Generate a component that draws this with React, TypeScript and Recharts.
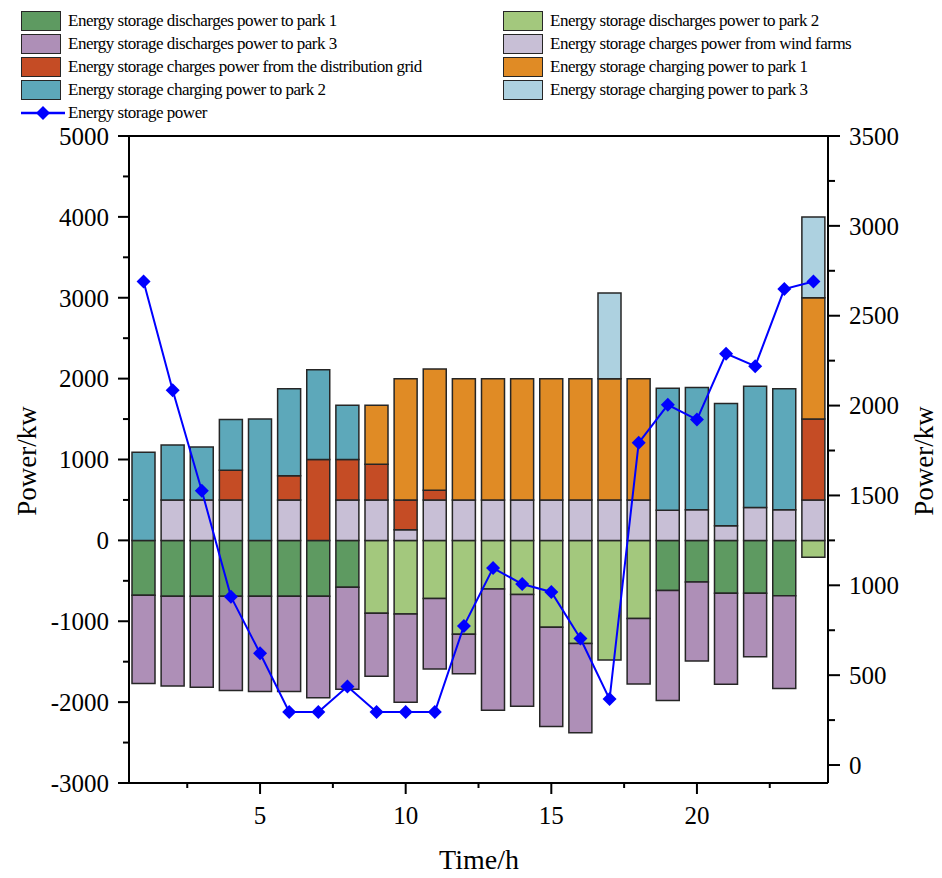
import { ComposedChart, Bar, Line, XAxis, YAxis, ReferenceLine } from 'recharts';

const hours = [1, 2, 3, 4, 5, 6, 7, 8, 9, 10, 11, 12, 13, 14, 15, 16, 17, 18, 19, 20, 21, 22, 23, 24];

// discharge (drawn below zero)
const dischargePark1 = [680, 690, 690, 690, 690, 690, 690, 580, 0, 0, 0, 0, 0, 0, 0, 0, 0, 0, 620, 515, 655, 655, 685, 0];
const dischargePark2 = [0, 0, 0, 0, 0, 0, 0, 0, 900, 910, 720, 1160, 600, 670, 1075, 1275, 1480, 965, 0, 0, 0, 0, 0, 210];
const dischargePark3 = [1090, 1110, 1125, 1165, 1180, 1180, 1255, 1260, 780, 1090, 870, 490, 1500, 1380, 1225, 1105, 0, 810, 1360, 975, 1125, 785, 1145, 0];

// charging (drawn above zero)
const chargeWind = [0, 500, 500, 500, 0, 500, 0, 500, 500, 130, 500, 500, 500, 500, 500, 500, 500, 500, 372, 380, 182, 405, 380, 500];
const chargeGrid = [0, 0, 0, 367, 0, 300, 1000, 500, 440, 370, 120, 0, 0, 0, 0, 0, 0, 0, 0, 0, 0, 0, 0, 1000];
const chargePark1 = [0, 0, 0, 0, 0, 0, 0, 0, 730, 1500, 1500, 1500, 1500, 1500, 1500, 1500, 1500, 1500, 0, 0, 0, 0, 0, 1500];
const chargePark2 = [1090, 680, 655, 628, 1500, 1074, 1110, 670, 0, 0, 0, 0, 0, 0, 0, 0, 0, 0, 1510, 1510, 1510, 1500, 1494, 0];
const chargePark3 = [0, 0, 0, 0, 0, 0, 0, 0, 0, 0, 0, 0, 0, 0, 0, 0, 1060, 0, 0, 0, 0, 0, 0, 1000];

// energy storage power (right axis)
const storagePower = [2690, 2085, 1526, 937, 622, 295, 295, 437, 295, 295, 295, 774, 1096, 1007, 963, 704, 367, 1793, 2004, 1922, 2289, 2219, 2648, 2690];

const leftTicks = [-3000, -2500, -2000, -1500, -1000, -500, 0, 500, 1000, 1500, 2000, 2500, 3000, 3500, 4000, 4500, 5000];
const rightTicks = [0, 250, 500, 750, 1000, 1250, 1500, 1750, 2000, 2250, 2500, 2750, 3000, 3250, 3500];
const xTicks = [2.5, 5, 7.5, 10, 12.5, 15, 17.5, 20, 22.5];

const data = hours.map((h, i) => ({
  hour: h,
  dis1: -dischargePark1[i],
  dis2: -dischargePark2[i],
  dis3: -dischargePark3[i],
  wind: chargeWind[i],
  grid: chargeGrid[i],
  chg1: chargePark1[i],
  chg2: chargePark2[i],
  chg3: chargePark3[i],
  power: storagePower[i],
}));

const FONT = '"Liberation Serif", "Times New Roman", serif';
const EDGE = '#262626';

const colors = {
  dis1: '#5E9A61',
  dis2: '#A3C87D',
  dis3: '#AE8FB7',
  wind: '#C8BFD6',
  grid: '#C54C25',
  chg1: '#E08B25',
  chg2: '#5DA8BA',
  chg3: '#ADD1E0',
};

const legendRows = [
  [['dis1', 'Energy storage discharges power to park 1'], ['dis2', 'Energy storage discharges power to park 2']],
  [['dis3', 'Energy storage discharges power to park 3'], ['wind', 'Energy storage charges power from wind farms']],
  [['grid', 'Energy storage charges power from the distribution grid'], ['chg1', 'Energy storage charging power to park 1']],
  [['chg2', 'Energy storage charging power to park 2'], ['chg3', 'Energy storage charging power to park 3']],
];

const LeftTick = ({ x, y, payload }: any) => {
  const major = payload.value % 1000 === 0;
  return (
    <g>
      <line x1={x} x2={x - (major ? 11 : 6)} y1={y} y2={y} stroke="#000" strokeWidth={2} />
      {major && (
        <text x={x - 20} y={y} dy="0.35em" textAnchor="end" fontSize={25} fontFamily={FONT} fill="#000">
          {payload.value}
        </text>
      )}
    </g>
  );
};

const RightTick = ({ x, y, payload }: any) => {
  const major = payload.value % 500 === 0;
  return (
    <g>
      <line x1={x} x2={x + (major ? 12 : 7)} y1={y} y2={y} stroke="#000" strokeWidth={2} />
      {major && (
        <text x={x + 21} y={y} dy="0.35em" textAnchor="start" fontSize={25} fontFamily={FONT} fill="#000">
          {payload.value}
        </text>
      )}
    </g>
  );
};

const BottomTick = ({ x, y, payload }: any) => {
  const major = payload.value % 5 === 0;
  return (
    <g>
      <line x1={x} x2={x} y1={y} y2={y + (major ? 11 : 5)} stroke="#000" strokeWidth={2} />
      {major && (
        <text x={x} y={y + 32} dy="0.35em" textAnchor="middle" fontSize={25} fontFamily={FONT} fill="#000">
          {payload.value}
        </text>
      )}
    </g>
  );
};

const Diamond = (props: any) => {
  const { cx, cy, index } = props;
  if (cx == null || cy == null) return null;
  const r = 7;
  return (
    <polygon
      key={`d-${index}`}
      points={`${cx},${cy - r} ${cx + r},${cy} ${cx},${cy + r} ${cx - r},${cy}`}
      fill="#0000FF"
    />
  );
};

const legendText = {
  position: 'absolute' as const,
  fontFamily: FONT,
  fontSize: 17,
  letterSpacing: '-0.5px',
  lineHeight: '20px',
  whiteSpace: 'nowrap' as const,
  color: '#000',
};

export default function App() {
  const rowY = [11, 34, 57, 80];
  return (
    <div style={{ position: 'absolute', left: 0, top: 0, width: 942, height: 878, background: '#fff' }}>
      {/* legend */}
      {legendRows.map((row, r) =>
        row.map(([key, label], c) => {
          const sx = c === 0 ? 21 : 503;
          return (
            <div key={key}>
              <div
                style={{
                  position: 'absolute',
                  left: sx,
                  top: rowY[r],
                  width: 38,
                  height: 18,
                  background: (colors as any)[key],
                  border: `1.5px solid ${EDGE}`,
                }}
              />
              <div style={{ ...legendText, left: sx + 47, top: rowY[r] }}>{label}</div>
            </div>
          );
        })
      )}
      <svg style={{ position: 'absolute', left: 21, top: 103 }} width={44} height={20}>
        <line x1={0} x2={44} y1={10} y2={10} stroke="#0000FF" strokeWidth={2.5} />
        <polygon points="22,3 29,10 22,17 15,10" fill="#0000FF" />
      </svg>
      <div style={{ ...legendText, left: 68, top: 103 }}>Energy storage power</div>

      <ComposedChart
        width={942}
        height={878}
        data={data}
        stackOffset="sign"
        margin={{ top: 136, right: 0, bottom: 0, left: 0 }}
      >
        <XAxis
          dataKey="hour"
          type="number"
          domain={[0.5, 24.5]}
          ticks={xTicks}
          interval={0}
          height={95}
          tickLine={false}
          tickSize={0}
          tickMargin={0}
          tick={<BottomTick />}
          axisLine={{ stroke: '#000', strokeWidth: 2 }}
        />
        <YAxis
          yAxisId="left"
          domain={[-3000, 5000]}
          ticks={leftTicks}
          interval={0}
          width={129}
          tickLine={false}
          tickSize={0}
          tickMargin={0}
          tick={<LeftTick />}
          axisLine={{ stroke: '#000', strokeWidth: 2 }}
        />
        <YAxis
          yAxisId="right"
          orientation="right"
          domain={[-100, 3500]}
          ticks={rightTicks}
          interval={0}
          width={114}
          tickLine={false}
          tickSize={0}
          tickMargin={0}
          tick={<RightTick />}
          axisLine={{ stroke: '#000', strokeWidth: 2 }}
        />
        <ReferenceLine yAxisId="left" y={5000} stroke="#000" strokeWidth={2} ifOverflow="visible" />

        <Bar yAxisId="left" dataKey="dis1" stackId="a" barSize={23} fill={colors.dis1} stroke={EDGE} strokeWidth={1.5} isAnimationActive={false} />
        <Bar yAxisId="left" dataKey="dis2" stackId="a" barSize={23} fill={colors.dis2} stroke={EDGE} strokeWidth={1.5} isAnimationActive={false} />
        <Bar yAxisId="left" dataKey="dis3" stackId="a" barSize={23} fill={colors.dis3} stroke={EDGE} strokeWidth={1.5} isAnimationActive={false} />
        <Bar yAxisId="left" dataKey="wind" stackId="a" barSize={23} fill={colors.wind} stroke={EDGE} strokeWidth={1.5} isAnimationActive={false} />
        <Bar yAxisId="left" dataKey="grid" stackId="a" barSize={23} fill={colors.grid} stroke={EDGE} strokeWidth={1.5} isAnimationActive={false} />
        <Bar yAxisId="left" dataKey="chg1" stackId="a" barSize={23} fill={colors.chg1} stroke={EDGE} strokeWidth={1.5} isAnimationActive={false} />
        <Bar yAxisId="left" dataKey="chg2" stackId="a" barSize={23} fill={colors.chg2} stroke={EDGE} strokeWidth={1.5} isAnimationActive={false} />
        <Bar yAxisId="left" dataKey="chg3" stackId="a" barSize={23} fill={colors.chg3} stroke={EDGE} strokeWidth={1.5} isAnimationActive={false} />

        <Line
          yAxisId="right"
          dataKey="power"
          type="linear"
          stroke="#0000FF"
          strokeWidth={2}
          dot={<Diamond />}
          activeDot={false}
          isAnimationActive={false}
        />
      </ComposedChart>

      {/* axis titles */}
      <div
        style={{
          position: 'absolute',
          left: 27,
          top: 461,
          transform: 'translate(-50%, -50%) rotate(-90deg)',
          fontFamily: FONT,
          fontSize: 27,
          whiteSpace: 'nowrap',
        }}
      >
        Power/kw
      </div>
      <div
        style={{
          position: 'absolute',
          left: 924,
          top: 461,
          transform: 'translate(-50%, -50%) rotate(-90deg)',
          fontFamily: FONT,
          fontSize: 27,
          whiteSpace: 'nowrap',
        }}
      >
        Power/kw
      </div>
      <div
        style={{
          position: 'absolute',
          left: 479,
          top: 860,
          transform: 'translate(-50%, -50%)',
          fontFamily: FONT,
          fontSize: 28,
          whiteSpace: 'nowrap',
        }}
      >
        Time/h
      </div>
    </div>
  );
}
